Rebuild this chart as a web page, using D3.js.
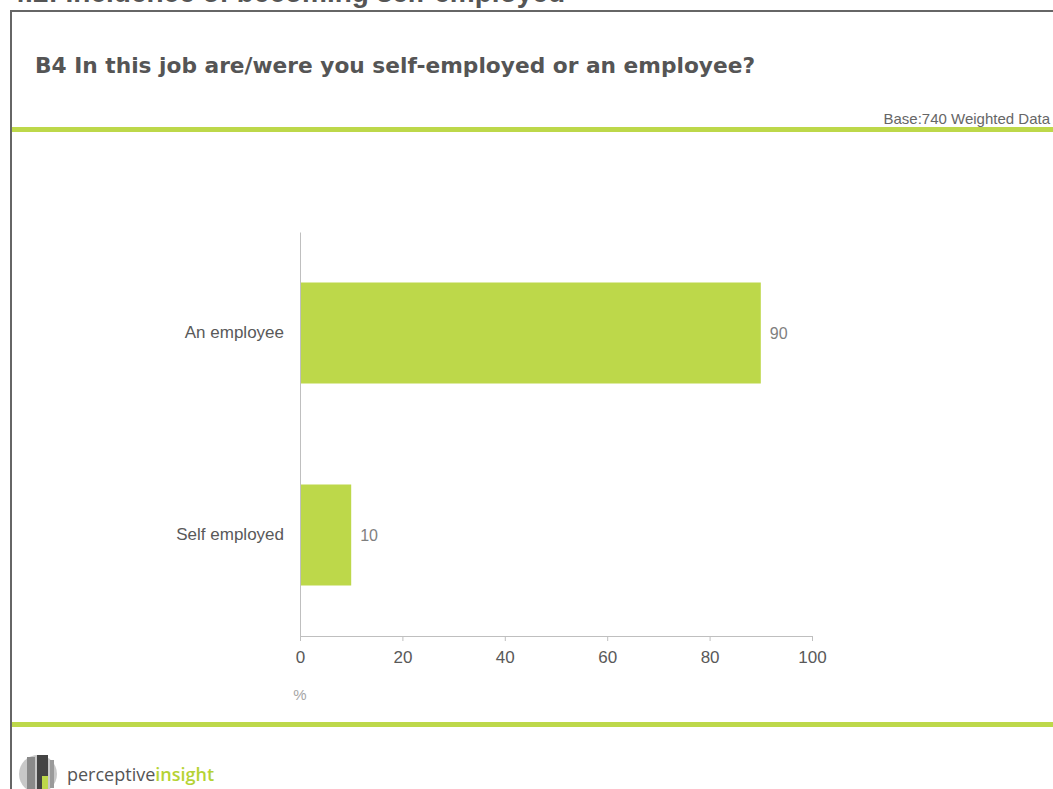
<!DOCTYPE html>
<html>
<head>
<meta charset="utf-8">
<script src="https://cdnjs.cloudflare.com/ajax/libs/d3/7.8.5/d3.min.js"></script>
<style>
  html, body { margin: 0; padding: 0; background: #fff; }
  svg { display: block; }
</style>
</head>
<body>
<div id="chart"></div>
<script>
// Survey answers and shares (%)
const categories = ["An employee", "Self employed"];
const values = [90, 10];
const xTicks = [0, 20, 40, 60, 80, 100];

const pageTitle = "4.2: Incidence of becoming self-employed";
const question = "B4 In this job are/were you self-employed or an employee?";
const baseNote = "Base:740 Weighted Data";
const axisUnit = "%";

const W = 1053, H = 789;
const green = "#bdd84a";
const textGrey = "#595959";

const svg = d3.select("#chart").append("svg")
  .attr("width", W).attr("height", H);

// Page heading, partly above the top edge
svg.append("text")
  .attr("x", 565).attr("y", 2)
  .attr("text-anchor", "end")
  .attr("font-family", "Liberation Sans, Arial, sans-serif")
  .attr("font-weight", "bold")
  .attr("font-size", 28)
  .attr("fill", "#555")
  .text(pageTitle);

// Slide frame
svg.append("rect")
  .attr("x", 11).attr("y", 11)
  .attr("width", W + 20).attr("height", H + 20)
  .attr("fill", "none")
  .attr("stroke", "#666")
  .attr("stroke-width", 2);

// Question heading
svg.append("text")
  .attr("x", 35).attr("y", 73)
  .attr("font-family", "DejaVu Sans, Verdana, sans-serif")
  .attr("font-weight", "bold")
  .attr("font-size", 21.5)
  .attr("textLength", 720)
  .attr("lengthAdjust", "spacingAndGlyphs")
  .attr("fill", "#555")
  .text(question);

svg.append("text")
  .attr("x", 1050).attr("y", 124)
  .attr("text-anchor", "end")
  .attr("font-family", "Liberation Sans, Arial, sans-serif")
  .attr("font-size", 15)
  .attr("fill", "#666")
  .text(baseNote);

// Green rules
svg.append("rect").attr("x", 12).attr("y", 127).attr("width", W).attr("height", 5).attr("fill", green);
svg.append("rect").attr("x", 12).attr("y", 722).attr("width", W).attr("height", 5).attr("fill", green);

// Plot area
const plot = { left: 300, right: 812, top: 232, bottom: 636 };

const x = d3.scaleLinear().domain([0, 100]).range([plot.left, plot.right]);
const y = d3.scaleBand().domain(categories).range([plot.top, plot.bottom]).paddingInner(0.5).paddingOuter(0.25);

// Bars
svg.append("g").selectAll("rect")
  .data(categories)
  .join("rect")
  .attr("x", x(0))
  .attr("y", d => y(d))
  .attr("width", (d, i) => x(values[i]) - x(0))
  .attr("height", y.bandwidth())
  .attr("fill", green);

// Value labels
svg.append("g").selectAll("text")
  .data(categories)
  .join("text")
  .attr("x", (d, i) => x(values[i]) + 9)
  .attr("y", d => y(d) + y.bandwidth() / 2)
  .attr("dy", "0.35em")
  .attr("font-family", "Liberation Sans, Arial, sans-serif")
  .attr("font-size", 16)
  .attr("fill", "#7f7f7f")
  .text((d, i) => values[i]);

// Category axis
const yAxis = svg.append("g")
  .attr("transform", `translate(${plot.left},0)`)
  .call(d3.axisLeft(y).tickSize(0).tickPadding(16));
yAxis.select(".domain").attr("stroke", "#bfbfbf").attr("stroke-width", 1);
yAxis.selectAll("text")
  .attr("font-family", "Liberation Sans, Arial, sans-serif")
  .attr("font-size", 17)
  .attr("fill", textGrey);

// Value axis
const xAxis = svg.append("g")
  .attr("transform", `translate(0,${plot.bottom})`)
  .call(d3.axisBottom(x).tickValues(xTicks).tickSize(5).tickSizeOuter(5).tickPadding(10));
xAxis.select(".domain").attr("stroke", "#bfbfbf");
xAxis.selectAll(".tick line").attr("stroke", "#bfbfbf");
xAxis.selectAll("text")
  .attr("font-family", "Liberation Sans, Arial, sans-serif")
  .attr("font-size", 17)
  .attr("fill", textGrey);

svg.append("text")
  .attr("x", x(0)).attr("y", 700)
  .attr("text-anchor", "middle")
  .attr("font-family", "Liberation Sans, Arial, sans-serif")
  .attr("font-size", 15)
  .attr("fill", "#a6a6a6")
  .text(axisUnit);

// Logo: striped roundel with wordmark
const logo = svg.append("g").attr("transform", "translate(38,774)");
logo.append("circle").attr("r", 19).attr("fill", "#c8c8c8");
logo.append("rect").attr("x", -11).attr("y", -17).attr("width", 8).attr("height", 34).attr("fill", "#8a8a8a");
logo.append("rect").attr("x", -1).attr("y", -19).attr("width", 11).attr("height", 38).attr("fill", "#444");
logo.append("rect").attr("x", 4).attr("y", 2).attr("width", 6).attr("height", 17).attr("fill", "#bdd84a");
logo.append("rect").attr("x", 12).attr("y", -14).attr("width", 4).attr("height", 28).attr("fill", "#9a9a9a");
const word = svg.append("text")
  .attr("x", 67).attr("y", 781)
  .attr("font-family", "Open Sans, Liberation Sans, sans-serif")
  .attr("font-size", 18);
word.append("tspan").attr("fill", "#555").text("perceptive");
word.append("tspan").attr("fill", "#b5d334").attr("font-weight", 600).text("insight");
</script>
</body>
</html>
